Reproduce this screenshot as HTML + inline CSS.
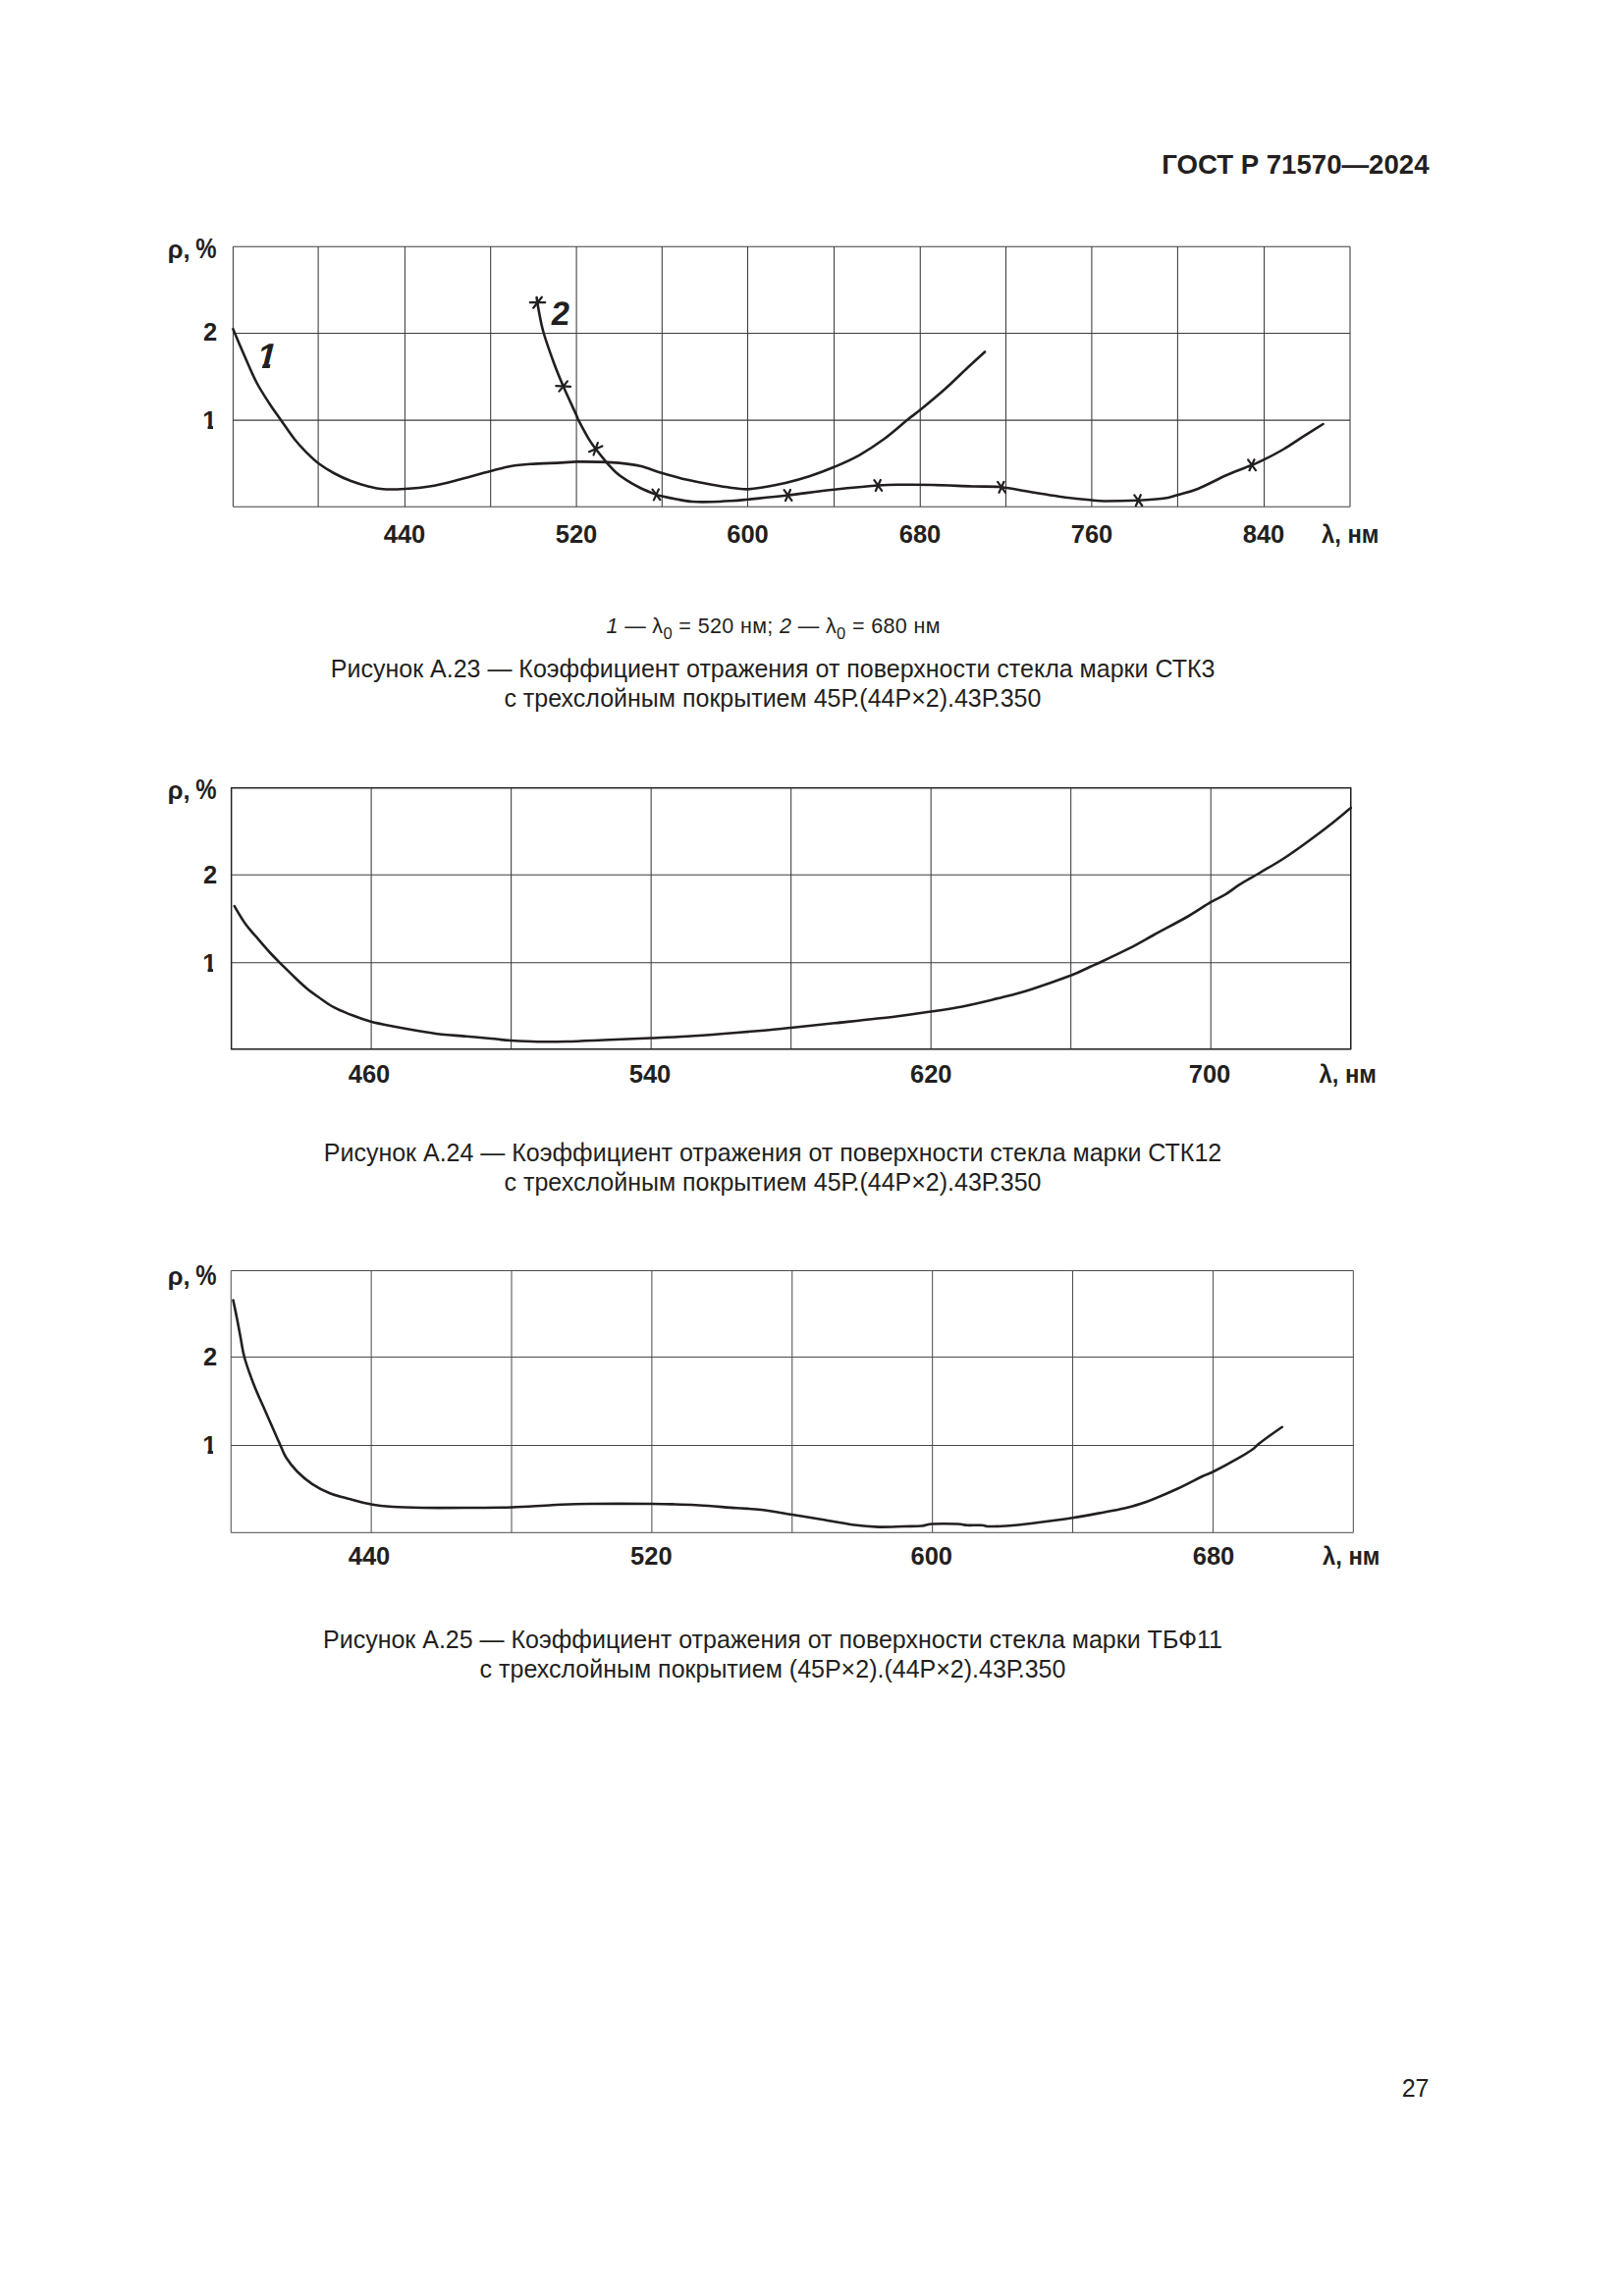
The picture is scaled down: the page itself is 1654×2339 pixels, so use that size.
<!DOCTYPE html>
<html lang="ru"><head><meta charset="utf-8"><title>ГОСТ Р 71570—2024</title>
<style>
html,body{margin:0;padding:0;background:#fff}
body{width:1654px;height:2339px;overflow:hidden}
svg{display:block}
text{font-family:"Liberation Sans",sans-serif;fill:#231f20}
</style></head><body>
<svg width="1654" height="2339" viewBox="0 0 1654 2339">
<defs><clipPath id="c1" clipPathUnits="userSpaceOnUse"><path d="M-1,-9H7V-1.55H4.25V0.5H2.1V-1.55H-1Z"/></clipPath></defs>
<path d="M237.40,251.20V516.30M324.10,251.20V516.30M412.40,251.20V516.30M499.70,251.20V516.30M587.10,251.20V516.30M674.30,251.20V516.30M761.50,251.20V516.30M849.50,251.20V516.30M937.25,251.20V516.30M1024.50,251.20V516.30M1111.90,251.20V516.30M1199.40,251.20V516.30M1287.50,251.20V516.30M1375.00,251.20V516.30M237.40,251.20H1375.00M237.40,339.40H1375.00M237.40,428.10H1375.00M237.40,516.30H1375.00" fill="none" stroke="#3c3c3c" stroke-width="1.05"/>
<path d="M237.4,335.2C239.3,339.8 245.0,353.4 249.0,362.5C253.0,371.6 257.2,381.9 261.5,390.0C265.8,398.1 270.4,404.9 274.5,411.3C278.6,417.7 282.1,422.3 286.3,428.3C290.6,434.3 295.6,442.0 300.0,447.5C304.4,453.0 308.4,457.2 312.5,461.3C316.6,465.4 319.7,468.6 324.3,472.0C328.9,475.4 334.5,479.0 340.0,482.0C345.5,485.0 351.7,487.8 357.5,490.0C363.3,492.2 369.6,494.1 375.0,495.5C380.4,496.9 383.8,497.9 390.0,498.3C396.2,498.7 404.6,498.5 412.5,498.0C420.4,497.5 429.2,496.8 437.5,495.5C445.8,494.2 452.2,492.6 462.5,490.0C472.8,487.4 489.9,482.5 499.5,480.0C509.1,477.5 513.2,476.2 520.0,475.0C526.8,473.8 531.4,473.4 540.0,472.8C548.6,472.2 563.8,471.8 571.6,471.4C579.4,471.0 580.4,470.5 586.9,470.4C593.4,470.3 603.1,470.4 610.4,470.6C617.7,470.8 623.8,470.9 630.7,471.6C637.6,472.3 644.7,473.1 652.0,474.8C659.3,476.5 666.4,479.6 674.4,481.9C682.4,484.2 691.6,486.8 700.0,488.8C708.4,490.7 717.5,492.4 725.0,493.8C732.5,495.1 739.2,496.2 745.0,497.0C750.8,497.8 755.0,498.4 760.0,498.4C765.0,498.4 768.3,497.9 775.0,496.8C781.7,495.7 791.7,494.0 800.0,492.0C808.3,490.0 816.8,487.7 825.0,485.0C833.2,482.3 841.2,479.3 849.5,475.8C857.8,472.2 866.6,468.5 875.0,463.8C883.4,459.0 891.7,453.6 900.0,447.5C908.3,441.4 918.8,432.0 925.0,427.0C931.2,422.0 931.0,422.6 937.3,417.5C943.5,412.4 954.5,403.3 962.5,396.2C970.5,389.2 978.2,381.3 985.0,375.0C991.8,368.7 1000.0,361.2 1003.0,358.5" fill="none" stroke="#231f20" stroke-width="2.6" stroke-linecap="round" stroke-linejoin="round"/>
<path d="M546.6,303.0C547.0,305.5 547.8,311.9 549.0,318.0C550.2,324.1 551.2,330.8 553.8,339.5C556.3,348.2 560.9,361.0 564.2,370.0C567.5,379.0 569.9,384.7 573.7,393.5C577.5,402.3 584.3,416.8 586.9,422.6C589.5,428.4 587.1,424.2 589.2,428.2C591.3,432.2 596.4,441.8 599.3,446.6C602.2,451.5 603.6,453.2 606.7,457.3C609.8,461.4 614.3,467.0 617.8,471.1C621.3,475.2 624.5,478.7 627.9,481.7C631.3,484.7 634.1,486.6 638.1,489.1C642.1,491.7 647.0,494.5 652.0,497.0C657.0,499.5 664.7,502.5 668.4,503.9C672.1,505.3 671.0,504.7 674.4,505.5C677.8,506.3 683.8,507.6 688.9,508.5C694.0,509.4 699.0,510.5 705.0,511.0C711.0,511.5 718.3,511.4 725.0,511.2C731.7,511.1 738.9,510.6 745.0,510.2C751.1,509.8 751.9,509.7 761.5,508.8C771.1,507.8 787.8,506.2 802.5,504.5C817.2,502.8 834.2,500.4 849.5,498.8C864.8,497.1 882.9,495.3 894.2,494.5C905.6,493.7 908.2,493.8 917.5,493.8C926.8,493.7 937.9,493.7 950.0,494.0C962.1,494.3 978.3,495.1 990.0,495.5C1001.7,495.9 1010.0,495.3 1020.0,496.2C1030.0,497.2 1038.8,499.5 1050.0,501.2C1061.2,503.0 1077.2,505.6 1087.5,507.0C1097.8,508.4 1105.5,508.9 1111.8,509.5C1118.0,510.1 1117.1,510.5 1125.0,510.5C1132.9,510.5 1149.2,510.2 1159.2,509.8C1169.2,509.3 1178.3,508.7 1185.0,507.8C1191.7,506.9 1193.6,505.8 1199.4,504.2C1205.2,502.6 1211.6,501.4 1220.0,498.0C1228.4,494.6 1240.8,487.8 1250.0,483.8C1259.2,479.7 1268.8,476.3 1275.0,473.8C1281.2,471.2 1282.1,471.0 1287.5,468.2C1292.9,465.5 1301.2,461.2 1307.5,457.5C1313.8,453.8 1318.3,450.5 1325.0,446.2C1331.7,442.0 1343.8,434.4 1347.5,432.0" fill="none" stroke="#231f20" stroke-width="2.6" stroke-linecap="round" stroke-linejoin="round"/>
<path d="M539.8,308.2L555.2,308.2M551.8,302.7L543.2,313.7M566.3,393.2L581.1,393.8M577.9,388.4L569.5,398.6M600.0,460.2L613.4,454.4M608.8,451.1L604.6,463.5M670.9,498.4L665.9,509.4M664.5,498.6L672.3,509.2M805.0,499.0L800.0,510.0M798.6,499.2L806.4,509.8M896.8,489.0L891.8,500.0M890.4,489.2L898.1,499.8M1022.5,490.8L1017.5,501.8M1016.1,490.9L1023.9,501.6M1161.8,504.2L1156.8,515.2M1155.3,504.4L1163.2,515.0M1277.5,468.2L1272.5,479.2M1271.1,468.4L1278.9,479.1" fill="none" stroke="#231f20" stroke-width="2.2" stroke-linecap="round"/>
<text x="170.8" y="262.5" font-size="25.5" font-weight="bold">ρ, <tspan dx="-1.6" font-size="29.5" textLength="21.3" lengthAdjust="spacingAndGlyphs">%</tspan></text>
<text x="221.1" y="346.8" font-size="25.5" font-weight="bold" font-style="normal" text-anchor="end">2</text>
<g transform="translate(206.2,436.6) scale(2.55)"><text font-size="10" font-weight="bold" clip-path="url(#c1)">1</text></g>
<text x="412" y="552.5" font-size="25.5" font-weight="bold" font-style="normal" text-anchor="middle">440</text>
<text x="587" y="552.5" font-size="25.5" font-weight="bold" font-style="normal" text-anchor="middle">520</text>
<text x="761.5" y="552.5" font-size="25.5" font-weight="bold" font-style="normal" text-anchor="middle">600</text>
<text x="937" y="552.5" font-size="25.5" font-weight="bold" font-style="normal" text-anchor="middle">680</text>
<text x="1112" y="552.5" font-size="25.5" font-weight="bold" font-style="normal" text-anchor="middle">760</text>
<text x="1287" y="552.5" font-size="25.5" font-weight="bold" font-style="normal" text-anchor="middle">840</text>
<text x="1346" y="552.5" font-size="25.5" font-weight="bold" font-style="normal" text-anchor="start" textLength="58.5" lengthAdjust="spacingAndGlyphs">λ, нм</text>
<g transform="translate(259.3,374.9) skewX(-14) scale(3.6)"><text font-size="10" font-weight="bold" clip-path="url(#c1)">1</text></g>
<text font-size="34" font-weight="bold" transform="translate(560.3,330.6) skewX(-7)">2</text>
<text x="617.5" y="645" font-size="21.5" textLength="340" lengthAdjust="spacing"><tspan font-style="italic">1</tspan> — λ<tspan font-size="16.5" dy="6">0</tspan><tspan dy="-6"> = 520 нм; </tspan><tspan font-style="italic">2</tspan> — λ<tspan font-size="16.5" dy="6">0</tspan><tspan dy="-6"> = 680 нм</tspan></text>
<text x="787.1" y="689.5" font-size="25" font-weight="normal" font-style="normal" text-anchor="middle">Рисунок А.23 — Коэффициент отражения от поверхности стекла марки СТК3</text>
<text x="786.9" y="719.5" font-size="25" font-weight="normal" font-style="normal" text-anchor="middle">с трехслойным покрытием 45Р.(44Р×2).43Р.350</text>
<path d="M235.60,802.60V1068.75M378.11,802.60V1068.75M520.62,802.60V1068.75M663.14,802.60V1068.75M805.65,802.60V1068.75M948.16,802.60V1068.75M1090.67,802.60V1068.75M1233.19,802.60V1068.75M1375.70,802.60V1068.75M235.60,802.60H1375.70M235.60,891.30H1375.70M235.60,980.75H1375.70M235.60,1068.75H1375.70" fill="none" stroke="#3c3c3c" stroke-width="1.05"/>
<rect x="235.60" y="802.60" width="1140.10" height="266.15" fill="none" stroke="#222" stroke-width="1.4"/>
<path d="M238.8,923.2C240.6,926.2 246.0,935.8 250.0,941.2C254.0,946.8 258.3,951.4 262.5,956.2C266.7,961.1 271.2,966.4 275.0,970.5C278.8,974.6 280.8,976.6 285.0,980.8C289.2,984.9 295.4,991.1 300.0,995.5C304.6,999.9 308.3,1003.5 312.5,1007.0C316.7,1010.5 320.4,1013.0 325.0,1016.2C329.6,1019.5 334.6,1023.3 340.0,1026.2C345.4,1029.2 351.2,1031.3 357.5,1033.8C363.8,1036.2 370.7,1038.8 377.8,1040.8C384.8,1042.7 392.1,1044.0 400.0,1045.5C407.9,1047.0 416.7,1048.6 425.0,1050.0C433.3,1051.4 441.7,1052.8 450.0,1053.8C458.3,1054.7 466.7,1055.0 475.0,1055.8C483.3,1056.5 492.4,1057.3 500.0,1058.0C507.6,1058.7 512.6,1059.5 520.5,1060.0C528.4,1060.5 538.0,1061.1 547.5,1061.2C557.0,1061.4 566.2,1061.3 577.5,1061.0C588.8,1060.7 600.8,1060.1 615.0,1059.5C629.2,1058.9 648.8,1058.1 663.0,1057.5C677.2,1056.9 687.6,1056.5 700.0,1055.8C712.4,1055.0 725.0,1054.0 737.5,1053.0C750.0,1052.0 763.7,1051.0 775.0,1050.0C786.3,1049.0 793.0,1048.3 805.5,1047.0C818.0,1045.7 832.2,1044.2 850.0,1042.3C867.8,1040.4 896.1,1037.5 912.5,1035.5C928.9,1033.5 937.0,1032.2 948.2,1030.5C959.5,1028.8 968.0,1027.9 980.0,1025.5C992.0,1023.1 1008.3,1019.2 1020.0,1016.2C1031.7,1013.3 1038.2,1011.8 1050.0,1008.0C1061.8,1004.2 1080.5,997.6 1090.5,993.8C1100.5,989.9 1104.9,987.3 1110.0,985.0C1115.1,982.7 1114.6,983.1 1121.2,980.0C1127.9,976.9 1141.0,970.8 1150.0,966.2C1159.0,961.7 1165.0,958.0 1175.0,952.5C1185.0,947.0 1200.4,939.0 1210.0,933.5C1219.6,928.0 1226.2,923.1 1232.5,919.4C1238.8,915.7 1242.5,914.5 1247.5,911.5C1252.5,908.5 1256.7,904.9 1262.5,901.2C1268.3,897.6 1275.0,894.0 1282.5,889.5C1290.0,885.0 1299.2,879.9 1307.5,874.5C1315.8,869.1 1324.6,862.8 1332.5,857.0C1340.4,851.2 1347.8,845.7 1355.0,840.0C1362.2,834.3 1372.3,825.8 1375.8,823.0" fill="none" stroke="#231f20" stroke-width="2.6" stroke-linecap="round" stroke-linejoin="round"/>
<text x="170.8" y="813.75" font-size="25.5" font-weight="bold">ρ, <tspan dx="-1.6" font-size="29.5" textLength="21.3" lengthAdjust="spacingAndGlyphs">%</tspan></text>
<text x="221.1" y="899.6" font-size="25.5" font-weight="bold" font-style="normal" text-anchor="end">2</text>
<g transform="translate(206.2,989.6) scale(2.55)"><text font-size="10" font-weight="bold" clip-path="url(#c1)">1</text></g>
<text x="376" y="1103.2" font-size="25.5" font-weight="bold" font-style="normal" text-anchor="middle">460</text>
<text x="662" y="1103.2" font-size="25.5" font-weight="bold" font-style="normal" text-anchor="middle">540</text>
<text x="948.25" y="1103.2" font-size="25.5" font-weight="bold" font-style="normal" text-anchor="middle">620</text>
<text x="1232" y="1103.2" font-size="25.5" font-weight="bold" font-style="normal" text-anchor="middle">700</text>
<text x="1343.5" y="1103.2" font-size="25.5" font-weight="bold" font-style="normal" text-anchor="start" textLength="58.5" lengthAdjust="spacingAndGlyphs">λ, нм</text>
<text x="787" y="1183.3" font-size="25" font-weight="normal" font-style="normal" text-anchor="middle">Рисунок А.24 — Коэффициент отражения от поверхности стекла марки СТК12</text>
<text x="787" y="1213" font-size="25" font-weight="normal" font-style="normal" text-anchor="middle">с трехслойным покрытием 45Р.(44Р×2).43Р.350</text>
<path d="M235.25,1294.50V1561.30M378.13,1294.50V1561.30M521.01,1294.50V1561.30M663.89,1294.50V1561.30M806.77,1294.50V1561.30M949.66,1294.50V1561.30M1092.54,1294.50V1561.30M1235.42,1294.50V1561.30M1378.30,1294.50V1561.30M235.25,1294.50H1378.30M235.25,1382.50H1378.30M235.25,1472.50H1378.30M235.25,1561.30H1378.30" fill="none" stroke="#4a4a4a" stroke-width="1.0"/>
<path d="M237.5,1324.5C238.1,1327.5 240.0,1336.2 241.2,1342.5C242.5,1348.8 243.7,1355.8 245.0,1362.5C246.3,1369.2 246.8,1375.1 249.0,1383.0C251.2,1390.9 254.8,1400.9 258.3,1410.0C261.8,1419.1 265.6,1427.1 270.2,1437.5C274.8,1447.9 282.1,1464.6 285.6,1472.5C289.2,1480.4 288.7,1480.6 291.5,1485.0C294.3,1489.4 298.2,1494.5 302.6,1499.0C307.0,1503.5 312.4,1508.1 318.0,1511.8C323.6,1515.5 329.5,1518.7 336.0,1521.3C342.5,1523.9 350.0,1525.4 357.0,1527.3C364.0,1529.2 370.8,1531.2 378.0,1532.5C385.2,1533.8 391.3,1534.4 400.0,1535.0C408.7,1535.6 417.5,1535.8 430.0,1536.0C442.5,1536.2 459.8,1536.1 475.0,1536.0C490.2,1535.9 506.9,1536.0 521.5,1535.5C536.1,1535.0 549.4,1533.8 562.5,1533.2C575.6,1532.7 583.1,1532.2 600.0,1532.0C616.9,1531.8 649.2,1531.9 663.8,1532.0C678.3,1532.1 679.4,1532.2 687.5,1532.5C695.6,1532.8 702.1,1532.9 712.5,1533.5C722.9,1534.1 739.6,1535.5 750.0,1536.2C760.4,1537.0 765.5,1536.9 775.0,1538.0C784.5,1539.1 796.3,1541.3 806.8,1543.0C817.2,1544.7 827.0,1546.2 837.5,1548.0C848.0,1549.8 860.4,1552.2 870.0,1553.5C879.6,1554.8 886.7,1555.3 895.0,1555.6C903.3,1555.8 912.7,1555.2 920.0,1555.0C927.3,1554.8 933.8,1554.9 938.8,1554.5C943.7,1554.1 943.7,1552.8 949.8,1552.5C955.8,1552.2 969.1,1552.3 975.0,1552.5C980.9,1552.7 980.8,1553.5 985.0,1553.8C989.2,1554.0 996.2,1553.5 1000.0,1553.8C1003.8,1554.0 1003.3,1554.9 1007.5,1555.0C1011.7,1555.1 1017.9,1555.0 1025.0,1554.5C1032.1,1554.0 1038.8,1553.4 1050.0,1552.0C1061.2,1550.6 1080.0,1548.2 1092.5,1546.2C1105.0,1544.3 1116.2,1542.1 1125.0,1540.5C1133.8,1538.9 1137.9,1538.2 1145.0,1536.5C1152.1,1534.8 1158.3,1533.4 1167.5,1530.0C1176.7,1526.6 1190.4,1520.6 1200.0,1516.2C1209.6,1511.9 1219.1,1506.5 1225.0,1503.8C1230.9,1501.0 1229.4,1502.4 1235.2,1499.5C1241.1,1496.6 1253.4,1490.0 1260.0,1486.2C1266.6,1482.5 1271.2,1479.6 1275.0,1477.0C1278.8,1474.4 1279.2,1473.1 1282.5,1470.5C1285.8,1467.9 1291.1,1464.0 1295.0,1461.2C1298.9,1458.5 1304.0,1455.0 1305.8,1453.8" fill="none" stroke="#231f20" stroke-width="2.6" stroke-linecap="round" stroke-linejoin="round"/>
<text x="170.8" y="1308.75" font-size="25.5" font-weight="bold">ρ, <tspan dx="-1.6" font-size="29.5" textLength="21.3" lengthAdjust="spacingAndGlyphs">%</tspan></text>
<text x="221.1" y="1391.3999999999999" font-size="25.5" font-weight="bold" font-style="normal" text-anchor="end">2</text>
<g transform="translate(206.2,1481.3999999999999) scale(2.55)"><text font-size="10" font-weight="bold" clip-path="url(#c1)">1</text></g>
<text x="376" y="1594.3" font-size="25.5" font-weight="bold" font-style="normal" text-anchor="middle">440</text>
<text x="663.3" y="1594.3" font-size="25.5" font-weight="bold" font-style="normal" text-anchor="middle">520</text>
<text x="948.75" y="1594.3" font-size="25.5" font-weight="bold" font-style="normal" text-anchor="middle">600</text>
<text x="1236" y="1594.3" font-size="25.5" font-weight="bold" font-style="normal" text-anchor="middle">680</text>
<text x="1347" y="1594.3" font-size="25.5" font-weight="bold" font-style="normal" text-anchor="start" textLength="58.5" lengthAdjust="spacingAndGlyphs">λ, нм</text>
<text x="787" y="1678.8" font-size="25" font-weight="normal" font-style="normal" text-anchor="middle">Рисунок А.25 — Коэффициент отражения от поверхности стекла марки ТБФ11</text>
<text x="787" y="1708.8" font-size="25" font-weight="normal" font-style="normal" text-anchor="middle">с трехслойным покрытием (45Р×2).(44Р×2).43Р.350</text>
<text x="1455.5" y="177" font-size="27.6" font-weight="bold" font-style="normal" text-anchor="end">ГОСТ Р 71570—2024</text>
<text x="1455.5" y="2135.5" font-size="25" font-weight="normal" font-style="normal" text-anchor="end">27</text>
</svg>
</body></html>
